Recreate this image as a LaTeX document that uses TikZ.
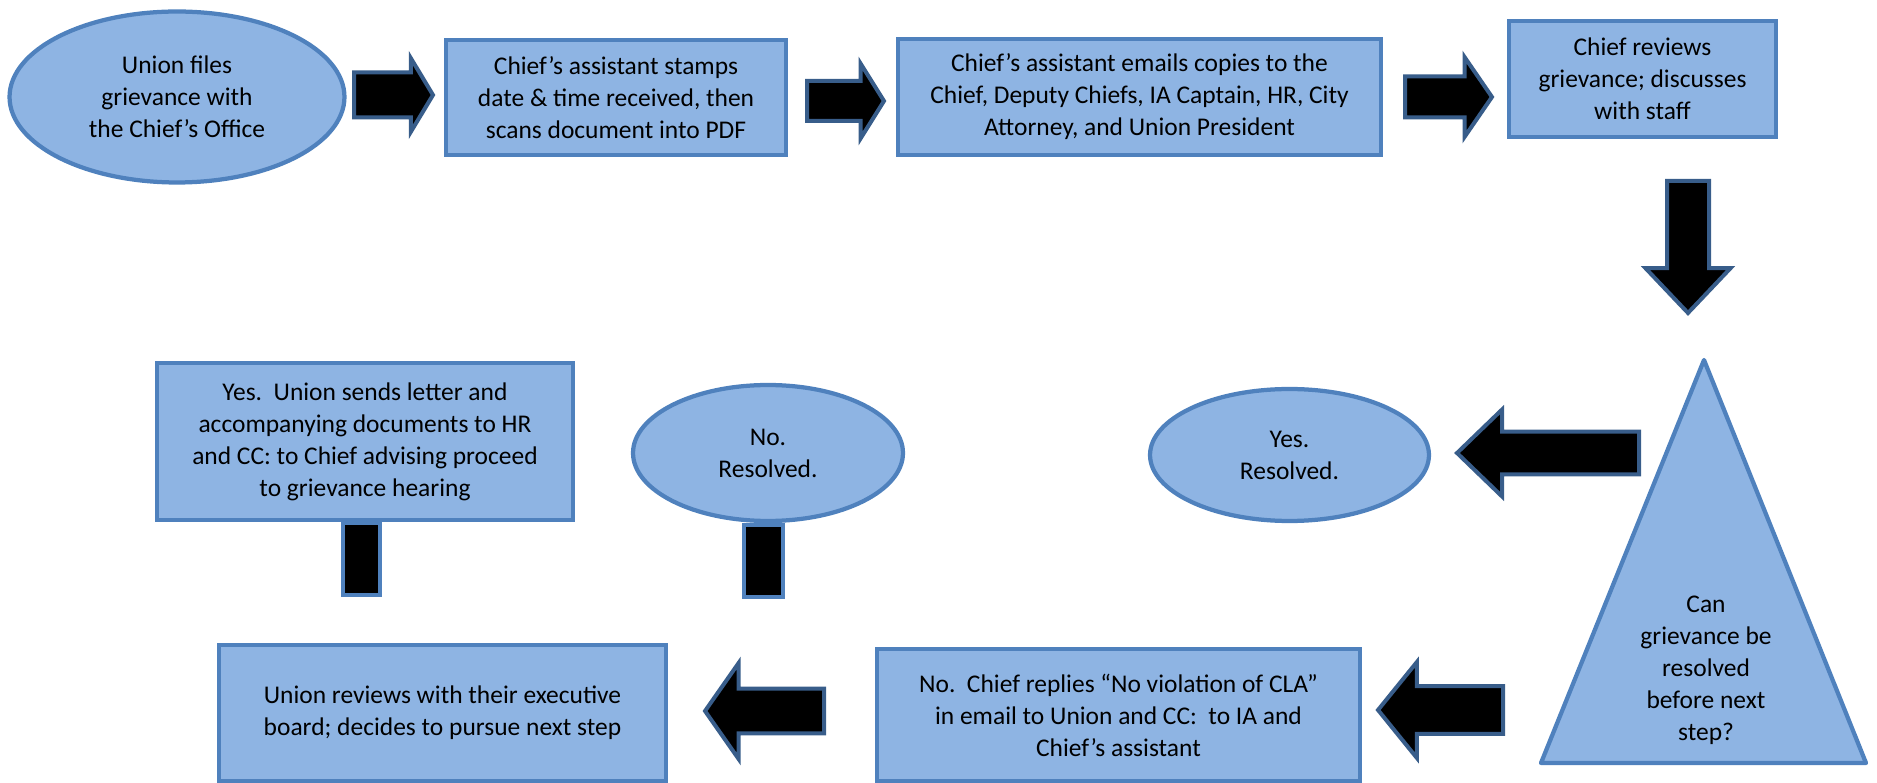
\documentclass[tikz,border=0pt]{standalone}
\usepackage{fontspec}
\setmainfont{Carlito}
\usepackage{tikz}
\usetikzlibrary{shapes.geometric,shapes.arrows}
\definecolor{boxfill}{HTML}{8EB4E3}
\definecolor{boxline}{HTML}{4F81BD}
\definecolor{arrowline}{HTML}{385D8A}

\begin{document}
\begin{tikzpicture}[x=0.02cm,y=-0.02cm]
\tikzset{stepbox/.style={rectangle, draw=boxline, fill=boxfill, line width=0.085cm, align=center, inner sep=0pt, font=\fontsize{14.5}{18.2}\selectfont},
  oval/.style={stepbox, ellipse},
  bar/.style={rectangle, draw=boxline, fill=black, line width=0.085cm, inner sep=0pt},
  blockarrow/.style={single arrow, draw=arrowline, fill=black, line width=0.08cm, inner xsep=0pt, single arrow head indent=0pt}}
\useasboundingbox (0,0) rectangle (1877,783);
% top row
\node[oval, minimum width=6.7cm, minimum height=3.42cm] (file) at (177,97) {Union files\\grievance with\\the Chief’s Office};
\node[stepbox, minimum width=6.8cm, minimum height=2.3cm] (stamp) at (616,97.5) {Chief’s assistant stamps\\date \& time received, then\\scans document into PDF};
\node[stepbox, minimum width=9.66cm, minimum height=2.32cm] (email) at (1139.5,97) {Chief’s assistant emails copies to the\\Chief, Deputy Chiefs, IA Captain, HR, City\\Attorney, and Union President};
\node[stepbox, minimum width=5.34cm, minimum height=2.32cm] (review) at (1642.5,79) {Chief reviews\\grievance; discusses\\with staff};
\node[blockarrow, anchor=tail, inner ysep=0.41cm, minimum height=1.58cm, single arrow head extend=0.29cm, single arrow tip angle=118] (a1) at (352,95) {};
\node[blockarrow, anchor=tail, inner ysep=0.36cm, minimum height=1.54cm, single arrow head extend=0.35cm, single arrow tip angle=116] (a2) at (805,101) {};
\node[blockarrow, anchor=tail, inner ysep=0.37cm, minimum height=1.74cm, single arrow head extend=0.39cm, single arrow tip angle=111] (a3) at (1403,97) {};
\node[blockarrow, rotate=-90, anchor=tail, inner ysep=0.38cm, minimum height=2.64cm, single arrow head extend=0.43cm, single arrow tip angle=87] (a4) at (1688,179) {};
% decision
\draw[line width=0.085cm, draw=boxline, fill=boxfill, line join=round] (1704,360) -- (1866,763) -- (1541,763) -- cycle;
\node[align=center, font=\fontsize{14.5}{18.2}\selectfont] (decide) at (1706,670) {Can\\grievance be\\resolved\\before next\\step?};
\node[oval, minimum width=5.58cm, minimum height=2.64cm] (yesres) at (1289.5,455) {Yes.\\Resolved.};
\node[blockarrow, rotate=180, anchor=tail, inner ysep=0.39cm, minimum height=3.64cm, single arrow head extend=0.44cm, single arrow tip angle=88] (a5) at (1641,453) {};
% bottom row
\node[stepbox, minimum width=9.66cm, minimum height=2.64cm] (noviol) at (1118.5,715) {No.\ \ Chief replies “No violation of CLA”\\in email to Union and CC:\ \ to IA and\\Chief’s assistant};
\node[blockarrow, rotate=180, anchor=tail, inner ysep=0.44cm, minimum height=2.5cm, single arrow head extend=0.48cm, single arrow tip angle=102] (a6) at (1505,710) {};
\node[stepbox, minimum width=8.94cm, minimum height=2.72cm] (board) at (442.5,713) {Union reviews with their executive\\board; decides to pursue next step};
\node[blockarrow, rotate=180, anchor=tail, inner ysep=0.41cm, minimum height=2.38cm, single arrow head extend=0.51cm, single arrow tip angle=110] (a7) at (826,711) {};
% middle left
\node[bar, minimum width=0.74cm, minimum height=1.44cm] (hearbar) at (361.5,559) {};
\node[bar, minimum width=0.78cm, minimum height=1.44cm] (nobar) at (763.5,561) {};
\node[stepbox, minimum width=8.32cm, minimum height=3.14cm] (hearing) at (365,441.5) {Yes.\ \ Union sends letter and\\accompanying documents to HR\\and CC: to Chief advising proceed\\to grievance hearing};
\node[oval, minimum width=5.4cm, minimum height=2.72cm] (nores) at (768,453) {No.\\Resolved.};
\end{tikzpicture}
\end{document}
